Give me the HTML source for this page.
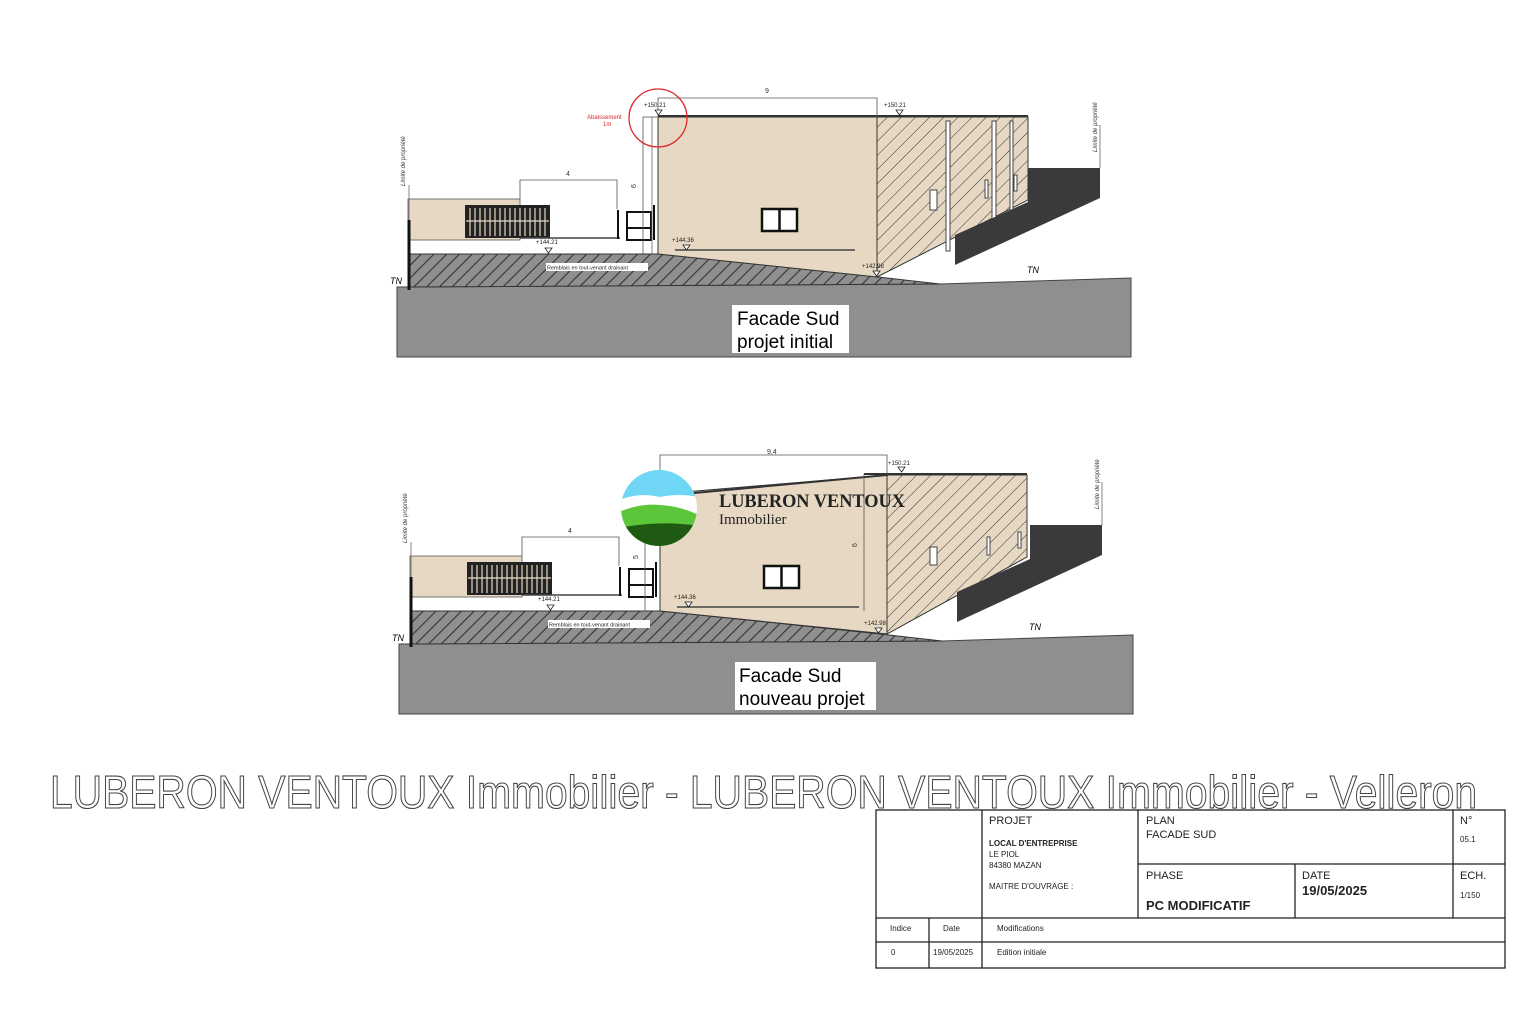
<!DOCTYPE html>
<html><head><meta charset="utf-8"><style>
html,body{margin:0;padding:0;background:#fff;}
svg{display:block;font-family:"Liberation Sans",sans-serif;}
</style></head><body>
<svg width="1528" height="1018" viewBox="0 0 1528 1018" xmlns="http://www.w3.org/2000/svg">
<defs>
<pattern id="h" width="9" height="9" patternUnits="userSpaceOnUse" patternTransform="rotate(45)">
<rect width="9" height="9" fill="#8f8f8f"/><line x1="0" y1="0" x2="0" y2="9" stroke="#333" stroke-width="2.2"/></pattern>
<pattern id="hb" width="10" height="10" patternUnits="userSpaceOnUse" patternTransform="rotate(45)">
<rect width="10" height="10" fill="#e6d8c3"/><line x1="0" y1="0" x2="0" y2="10" stroke="#333" stroke-width="1"/></pattern>
<clipPath id="cc"><circle cx="659" cy="508" r="38"/></clipPath>
</defs>

<!-- ===== TOP DRAWING ===== -->
<g>
<polygon points="397,287 940,284 1131,278 1131,357 397,357" fill="#8f8f91" stroke="#444" stroke-width="1"/>
<polygon points="410,254 660,254 878,277 940,284 410,287" fill="url(#h)" stroke="#333" stroke-width="1"/>
<!-- left low building -->
<rect x="408" y="199" width="112" height="41" fill="#e6d8c3" stroke="#555" stroke-width="0.8"/>
<rect x="465" y="205" width="85" height="33" fill="#222"/>
<g stroke="#e6d8c3" stroke-width="1.2">
<line x1="470" y1="208" x2="470" y2="236"/><line x1="475" y1="208" x2="475" y2="236"/><line x1="480" y1="208" x2="480" y2="236"/><line x1="485" y1="208" x2="485" y2="236"/><line x1="490" y1="208" x2="490" y2="236"/><line x1="495" y1="208" x2="495" y2="236"/><line x1="500" y1="208" x2="500" y2="236"/><line x1="505" y1="208" x2="505" y2="236"/><line x1="510" y1="208" x2="510" y2="236"/><line x1="515" y1="208" x2="515" y2="236"/><line x1="520" y1="208" x2="520" y2="236"/><line x1="525" y1="208" x2="525" y2="236"/><line x1="530" y1="208" x2="530" y2="236"/><line x1="535" y1="208" x2="535" y2="236"/><line x1="540" y1="208" x2="540" y2="236"/><line x1="545" y1="208" x2="545" y2="236"/>
<line x1="466" y1="221" x2="549" y2="221"/></g>
<line x1="520" y1="238" x2="620" y2="238" stroke="#444" stroke-width="1.5"/>
<line x1="618" y1="210" x2="618" y2="239" stroke="#111" stroke-width="2"/>
<rect x="627" y="212" width="24" height="28" fill="#fff" stroke="#111" stroke-width="2"/>
<line x1="627" y1="228" x2="651" y2="228" stroke="#111" stroke-width="2"/>
<line x1="654" y1="205" x2="654" y2="240" stroke="#111" stroke-width="2"/>
<line x1="652" y1="117" x2="652" y2="254" stroke="#666" stroke-width="0.8"/>
<line x1="409" y1="220" x2="409" y2="290" stroke="#111" stroke-width="3"/>
<line x1="409" y1="185" x2="409" y2="220" stroke="#666" stroke-width="0.8"/>
<text transform="translate(405,186) rotate(-90)" font-size="6" font-style="italic" fill="#333">Limite de propriété</text>
<text x="390" y="284" font-size="9" font-style="italic">TN</text>
<!-- building -->
<polygon points="658,117 877,117 877,277 658,254" fill="#e6d8c3" stroke="#333" stroke-width="1"/>
<polygon points="877,117 1028,117 1028,200 877,277" fill="url(#hb)" stroke="#333" stroke-width="1"/>
<line x1="658" y1="116" x2="1028" y2="116" stroke="#333" stroke-width="2"/>
<g stroke="#444" stroke-width="1" fill="#fff">
<rect x="946" y="121" width="4" height="130"/><rect x="992" y="121" width="4" height="108"/><rect x="1010" y="121" width="3" height="98"/>
<rect x="930" y="190" width="7" height="20"/><rect x="985" y="180" width="3" height="18"/><rect x="1014" y="175" width="3" height="16"/></g>
<rect x="762" y="209" width="35" height="22" fill="#fff" stroke="#111" stroke-width="2.5"/>
<line x1="779.5" y1="209" x2="779.5" y2="231" stroke="#111" stroke-width="2.5"/>
<line x1="675" y1="250" x2="855" y2="250" stroke="#444" stroke-width="1.5"/>
<polygon points="1028,168 1100,168 1100,198 955,265 955,235 1028,202" fill="#3a3a3c"/>
<line x1="1100" y1="125" x2="1100" y2="168" stroke="#666" stroke-width="0.8"/>
<text transform="translate(1097,152) rotate(-90)" font-size="6" font-style="italic" fill="#333">Limite de propriété</text>
<text x="1027" y="273" font-size="9" font-style="italic">TN</text>
<!-- dims -->
<g stroke="#555" stroke-width="0.8" fill="none">
<polyline points="658,117 658,98 877,98 877,117"/>
<polyline points="520,199 520,180 617,180 617,209"/>
<line x1="643" y1="117" x2="643" y2="254"/><line x1="643" y1="117" x2="658" y2="117"/>
</g>
<text x="765" y="93" font-size="7" fill="#333">9</text>
<text x="566" y="176" font-size="7" fill="#333">4</text>
<text transform="translate(636,188) rotate(-90)" font-size="7" fill="#333">6</text>
<g font-size="6" fill="#222">
<text x="644" y="107">+150.21</text><text x="884" y="107">+150.21</text>
<text x="536" y="244">+144.21</text><text x="672" y="242">+144.36</text><text x="862" y="268">+142.98</text></g>
<g fill="#fff" stroke="#222" stroke-width="0.8">
<polygon points="655,110 662,110 658.5,115"/><polygon points="896,110 903,110 899.5,115"/>
<polygon points="545,248 552,248 548.5,253"/><polygon points="683,245 690,245 686.5,250"/><polygon points="873,271 880,271 876.5,276"/></g>
<rect x="546" y="263" width="102" height="8" fill="#fff"/>
<text x="547" y="269.5" font-size="5.5" fill="#222">Remblais en tout-venant drainant</text>
<circle cx="658" cy="118" r="29" fill="none" stroke="#e0262a" stroke-width="1.3"/>
<text x="587" y="119" font-size="6" fill="#e0262a">Abaissement</text>
<text x="603" y="126" font-size="6" fill="#e0262a">1m</text>
<rect x="732" y="305" width="117" height="48" fill="#fff"/>
<text x="737" y="325" font-size="19">Facade Sud</text>
<text x="737" y="348" font-size="19">projet initial</text>
</g>

<!-- ===== BOTTOM DRAWING ===== -->
<g transform="translate(2,357)">
<polygon points="397,287 940,284 1131,278 1131,357 397,357" fill="#8f8f91" stroke="#444" stroke-width="1"/>
<polygon points="410,254 660,254 878,277 940,284 410,287" fill="url(#h)" stroke="#333" stroke-width="1"/>
<rect x="408" y="199" width="112" height="41" fill="#e6d8c3" stroke="#555" stroke-width="0.8"/>
<rect x="465" y="205" width="85" height="33" fill="#222"/>
<g stroke="#e6d8c3" stroke-width="1.2">
<line x1="470" y1="208" x2="470" y2="236"/><line x1="475" y1="208" x2="475" y2="236"/><line x1="480" y1="208" x2="480" y2="236"/><line x1="485" y1="208" x2="485" y2="236"/><line x1="490" y1="208" x2="490" y2="236"/><line x1="495" y1="208" x2="495" y2="236"/><line x1="500" y1="208" x2="500" y2="236"/><line x1="505" y1="208" x2="505" y2="236"/><line x1="510" y1="208" x2="510" y2="236"/><line x1="515" y1="208" x2="515" y2="236"/><line x1="520" y1="208" x2="520" y2="236"/><line x1="525" y1="208" x2="525" y2="236"/><line x1="530" y1="208" x2="530" y2="236"/><line x1="535" y1="208" x2="535" y2="236"/><line x1="540" y1="208" x2="540" y2="236"/><line x1="545" y1="208" x2="545" y2="236"/>
<line x1="466" y1="221" x2="549" y2="221"/></g>
<line x1="520" y1="238" x2="620" y2="238" stroke="#444" stroke-width="1.5"/>
<line x1="618" y1="210" x2="618" y2="239" stroke="#111" stroke-width="2"/>
<rect x="627" y="212" width="24" height="28" fill="#fff" stroke="#111" stroke-width="2"/>
<line x1="627" y1="228" x2="651" y2="228" stroke="#111" stroke-width="2"/>
<line x1="654" y1="205" x2="654" y2="240" stroke="#111" stroke-width="2"/>
<line x1="409" y1="220" x2="409" y2="290" stroke="#111" stroke-width="3"/>
<line x1="409" y1="185" x2="409" y2="220" stroke="#666" stroke-width="0.8"/>
<text transform="translate(405,186) rotate(-90)" font-size="6" font-style="italic" fill="#333">Limite de propriété</text>
<text x="390" y="284" font-size="9" font-style="italic">TN</text>
<polygon points="658,137 885,118 885,277 658,254" fill="#e6d8c3" stroke="#333" stroke-width="1"/>
<polygon points="885,118 1025,118 1025,200 885,277" fill="url(#hb)" stroke="#333" stroke-width="1"/>
<line x1="692" y1="136" x2="885" y2="118" stroke="#333" stroke-width="2"/>
<line x1="862" y1="117" x2="1025" y2="117" stroke="#333" stroke-width="2"/>
<line x1="862" y1="117" x2="862" y2="254" stroke="#555" stroke-width="0.8"/>
<g stroke="#444" stroke-width="1" fill="#fff">
<rect x="928" y="190" width="7" height="18"/><rect x="985" y="180" width="3" height="18"/><rect x="1016" y="175" width="3" height="16"/></g>
<rect x="762" y="209" width="35" height="22" fill="#fff" stroke="#111" stroke-width="2.5"/>
<line x1="779.5" y1="209" x2="779.5" y2="231" stroke="#111" stroke-width="2.5"/>
<line x1="675" y1="250" x2="857" y2="250" stroke="#444" stroke-width="1.5"/>
<polygon points="1028,168 1100,168 1100,198 955,265 955,235 1028,202" fill="#3a3a3c"/>
<line x1="1100" y1="125" x2="1100" y2="168" stroke="#666" stroke-width="0.8"/>
<text transform="translate(1097,152) rotate(-90)" font-size="6" font-style="italic" fill="#333">Limite de propriété</text>
<text x="1027" y="273" font-size="9" font-style="italic">TN</text>
<g stroke="#555" stroke-width="0.8" fill="none">
<polyline points="658,140 658,98 885,98 885,118"/>
<polyline points="520,199 520,180 617,180 617,209"/>
<line x1="643" y1="150" x2="643" y2="254"/>
</g>
<text x="765" y="97" font-size="7" fill="#333">9,4</text>
<text x="566" y="176" font-size="7" fill="#333">4</text>
<text transform="translate(636,202) rotate(-90)" font-size="7" fill="#333">5</text>
<text transform="translate(855,190) rotate(-90)" font-size="7" fill="#333">6</text>
<g font-size="6" fill="#222">
<text x="886" y="108">+150.21</text>
<text x="536" y="244">+144.21</text><text x="672" y="242">+144.36</text><text x="862" y="268">+142.98</text></g>
<g fill="#fff" stroke="#222" stroke-width="0.8">
<polygon points="896,110 903,110 899.5,115"/>
<polygon points="545,248 552,248 548.5,253"/><polygon points="683,245 690,245 686.5,250"/><polygon points="873,271 880,271 876.5,276"/></g>
<rect x="546" y="263" width="102" height="8" fill="#fff"/>
<text x="547" y="269.5" font-size="5.5" fill="#222">Remblais en tout-venant drainant</text>
<rect x="733" y="305" width="141" height="48" fill="#fff"/>
<text x="737" y="325" font-size="19">Facade Sud</text>
<text x="737" y="348" font-size="19">nouveau projet</text>
</g>

<!-- logo -->
<g clip-path="url(#cc)">
<rect x="619" y="468" width="80" height="80" fill="#6fd6f5"/>
<path d="M619,500 Q640,492 660,497 Q680,493 699,497 L699,548 L619,548Z" fill="#fff"/>
<path d="M619,512 Q640,503 660,505 Q680,506 699,515 L699,548 L619,548Z" fill="#5cc63a"/>
<path d="M619,528 Q660,520 699,526 L699,548 L619,548Z" fill="#1f5a12"/>
</g>
<text x="719" y="507" font-family="'Liberation Serif',serif" font-weight="bold" font-size="19" fill="#222" textLength="186" lengthAdjust="spacingAndGlyphs">LUBERON VENTOUX</text>
<text x="719" y="524" font-family="'Liberation Serif',serif" font-size="15" fill="#222">Immobilier</text>

<!-- watermark -->
<text x="50" y="808" font-size="46" fill="#fff" stroke="#444" stroke-width="1.1" textLength="1427" lengthAdjust="spacingAndGlyphs">LUBERON VENTOUX Immobilier - LUBERON VENTOUX Immobilier - Velleron</text>

<!-- title block -->
<g stroke="#222" stroke-width="1.3" fill="none">
<rect x="876" y="810" width="629" height="158"/>
<line x1="982" y1="810" x2="982" y2="968"/>
<line x1="1138" y1="810" x2="1138" y2="918"/>
<line x1="1453" y1="810" x2="1453" y2="918"/>
<line x1="1138" y1="864" x2="1505" y2="864"/>
<line x1="1295" y1="864" x2="1295" y2="918"/>
<line x1="876" y1="918" x2="1505" y2="918"/>
<line x1="876" y1="942" x2="1505" y2="942"/>
<line x1="929" y1="918" x2="929" y2="968"/>
</g>
<g fill="#222">
<text x="989" y="824" font-size="11">PROJET</text>
<text x="989" y="846" font-size="8" font-weight="bold">LOCAL D'ENTREPRISE</text>
<text x="989" y="857" font-size="8">LE PIOL</text>
<text x="989" y="868" font-size="8">84380 MAZAN</text>
<text x="989" y="889" font-size="8">MAITRE D'OUVRAGE :</text>
<text x="1146" y="824" font-size="11">PLAN</text>
<text x="1146" y="838" font-size="11">FACADE SUD</text>
<text x="1460" y="824" font-size="11">N°</text>
<text x="1460" y="842" font-size="8">05.1</text>
<text x="1146" y="879" font-size="11">PHASE</text>
<text x="1146" y="910" font-size="13" font-weight="bold">PC MODIFICATIF</text>
<text x="1302" y="879" font-size="11">DATE</text>
<text x="1302" y="895" font-size="13" font-weight="bold">19/05/2025</text>
<text x="1460" y="879" font-size="11">ECH.</text>
<text x="1460" y="898" font-size="8">1/150</text>
<text x="890" y="931" font-size="8">Indice</text>
<text x="943" y="931" font-size="8">Date</text>
<text x="997" y="931" font-size="8">Modifications</text>
<text x="891" y="955" font-size="8">0</text>
<text x="933" y="955" font-size="8">19/05/2025</text>
<text x="997" y="955" font-size="8">Edition initiale</text>
</g>
</svg>
</body></html>
